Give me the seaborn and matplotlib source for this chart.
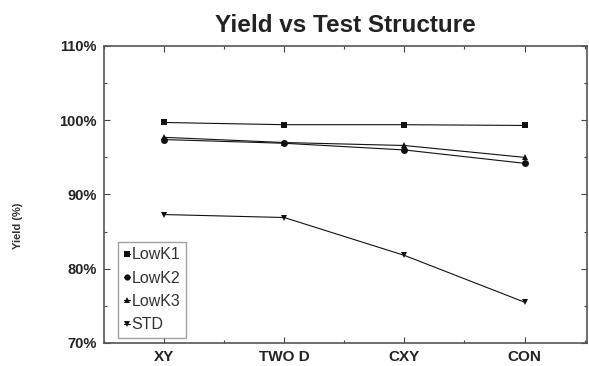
import matplotlib
matplotlib.use("Agg")
import matplotlib.pyplot as plt
import seaborn as sns
import pandas as pd
from matplotlib.ticker import MultipleLocator, FuncFormatter

categories = ["XY", "TWO D", "CXY", "CON"]
lowk1 = [99.7, 99.4, 99.4, 99.3]
lowk2 = [97.4, 96.9, 96.0, 94.2]
lowk3 = [97.7, 97.0, 96.6, 95.0]
std = [87.3, 86.9, 81.8, 75.5]

series_names = ["LowK1", "LowK2", "LowK3", "STD"]
series_values = [lowk1, lowk2, lowk3, std]
markers = {"LowK1": "s", "LowK2": "o", "LowK3": "^", "STD": "v"}

rows = []
for name, vals in zip(series_names, series_values):
    for i, v in enumerate(vals):
        rows.append({"pos": i, "Yield": v, "Series": name})
df = pd.DataFrame(rows)

sns.set_theme(style="white")
plt.rcParams["font.family"] = ["Liberation Sans", "DejaVu Sans"]

fig = plt.figure(figsize=(5.89, 3.66), dpi=100)
ax = fig.add_axes([104 / 589, 1 - 343 / 366, (587 - 104) / 589, (343 - 46) / 366])

sns.lineplot(data=df, x="pos", y="Yield", hue="Series", style="Series",
             markers=markers, dashes=False, palette=["#111111"] * 4,
             linewidth=0.8, markersize=5, markeredgewidth=0, ax=ax)

ax.set_xlim(-0.5, 3.52)
ax.set_ylim(70, 110)
ax.set_xticks(range(len(categories)))
ax.set_xticklabels(categories, fontweight="bold", fontsize=11, color="#222222")
ax.xaxis.set_minor_locator(MultipleLocator(0.5))
ax.yaxis.set_major_locator(MultipleLocator(10))
ax.yaxis.set_minor_locator(MultipleLocator(5))
ax.yaxis.set_major_formatter(FuncFormatter(lambda v, p: f"{v:.0f}%"))
for lab in ax.get_yticklabels():
    lab.set_fontweight("bold")
    lab.set_fontsize(10.5)
    lab.set_color("#222222")

ax.tick_params(which="both", direction="in", top=True, right=True, bottom=True, left=True,
               color="#444444", width=0.8)
ax.tick_params(which="major", length=4, pad=5)
ax.tick_params(which="minor", length=2.5)

for s in ax.spines.values():
    s.set_color("#555555")
    s.set_linewidth(1.2)

ax.set_xlabel("")
ax.set_ylabel("Yield (%)", fontsize=8, fontweight="bold", color="#333333")
ax.yaxis.set_label_coords(-0.167, 0.394)
ax.set_title("Yield vs Test Structure", fontsize=17.5, fontweight="bold", color="#222222", pad=10)

leg = ax.legend(loc="lower left", bbox_to_anchor=(0.029, 0.017), frameon=True, fancybox=False,
                handlelength=0.4, handletextpad=0.1, borderpad=0.35, labelspacing=0.52,
                fontsize=11.5, markerscale=0.9, borderaxespad=0)
leg.get_frame().set_edgecolor("#888888")
leg.get_frame().set_linewidth(1.0)
for t in leg.get_texts():
    t.set_color("#333333")

fig.savefig("out.png", dpi=100)
